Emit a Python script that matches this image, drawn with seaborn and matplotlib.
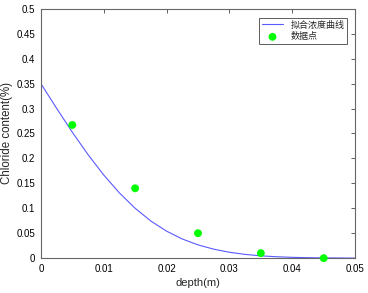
import matplotlib
matplotlib.use("Agg")
import matplotlib.pyplot as plt
import seaborn as sns
import pandas as pd

# fitted curve
curve_x = [0, 0.0025, 0.005, 0.0075, 0.01, 0.0125, 0.015, 0.0175, 0.02, 0.0225,
           0.025, 0.0275, 0.03, 0.0325, 0.035, 0.0375, 0.04, 0.0425, 0.045, 0.0475, 0.05]
curve_y = [0.350, 0.3006, 0.2526, 0.2077, 0.1668, 0.1308, 0.1000, 0.0744, 0.0541, 0.0384,
           0.0266, 0.0180, 0.0118, 0.0075, 0.0046, 0.0028, 0.0016, 0.0009, 0.0005, 0.0003, 0.0001]
# measured points
pt_x = [0.005, 0.015, 0.025, 0.035, 0.045]
pt_y = [0.267, 0.140, 0.050, 0.010, 0.000]

xticks = [0, 0.01, 0.02, 0.03, 0.04, 0.05]
yticks = [0, 0.05, 0.1, 0.15, 0.2, 0.25, 0.3, 0.35, 0.4, 0.45, 0.5]
xlabels = ["0", "0.01", "0.02", "0.03", "0.04", "0.05"]
ylabels = ["0", "0.05", "0.1", "0.15", "0.2", "0.25", "0.3", "0.35", "0.4", "0.45", "0.5"]

sns.set_style("white")
plt.rcParams['font.family'] = ['Liberation Sans', 'Noto Sans CJK SC', 'DejaVu Sans']

fig = plt.figure(figsize=(3.68, 2.93), dpi=100)
ax = fig.add_axes([0.111, 0.119, 0.854, 0.851])

df_c = pd.DataFrame({"x": curve_x, "y": curve_y})
df_p = pd.DataFrame({"x": pt_x, "y": pt_y})
sns.lineplot(data=df_c, x="x", y="y", ax=ax, color="#5a5aff", linewidth=0.8,
             label="拟合浓度曲线", zorder=2)
sns.scatterplot(data=df_p, x="x", y="y", ax=ax, color="#00ff00", s=32,
                edgecolor="none", label="数据点", zorder=3, clip_on=False)

ax.set_xlim(0, 0.05)
ax.set_ylim(0, 0.5)
ax.set_xticks(xticks)
ax.set_xticklabels(xlabels)
ax.set_yticks(yticks)
ax.set_yticklabels(ylabels)
ax.tick_params(direction="in", length=3, width=0.6, labelsize=7, colors="#444444",
               top=True, right=True, pad=4)
for lab in ax.get_xticklabels() + ax.get_yticklabels():
    lab.set_color("black")
for s in ax.spines.values():
    s.set_visible(True)
    s.set_color("#666666")
    s.set_linewidth(0.8)

ax.set_xlabel("depth(m)", fontsize=8, labelpad=3)
ax.set_ylabel("Chloride content(%)", fontsize=8.3)
ax.yaxis.set_label_coords(-0.09, 0.5)

leg = ax.legend(loc="upper right", frameon=True, fancybox=False,
                borderpad=0.3, handlelength=2.4, labelspacing=0.3,
                bbox_to_anchor=(0.975, 0.964), borderaxespad=0.0,
                prop={'family': ['Noto Sans CJK SC'], 'size': 6.5})
leg.get_frame().set_edgecolor("#333333")
leg.get_frame().set_linewidth(0.7)

fig.savefig("out.png", dpi=100)
